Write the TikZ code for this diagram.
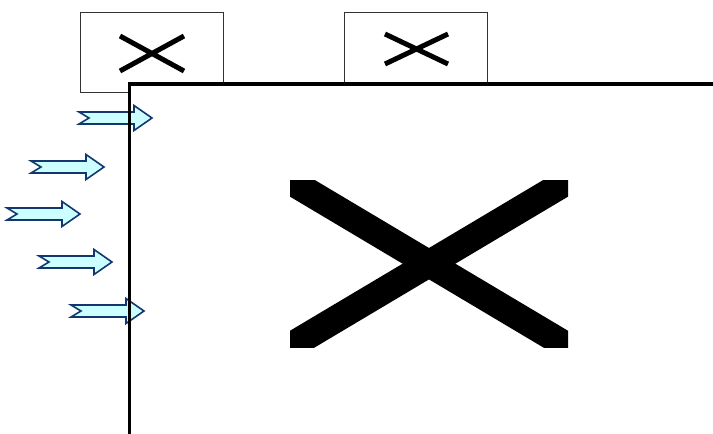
\documentclass[tikz,border=0pt]{standalone}
\definecolor{arrowedge}{RGB}{16,56,110}
\definecolor{arrowfill}{RGB}{204,255,255}
\begin{document}
\begin{tikzpicture}[x=1pt,y=-1pt,
  boxline/.style={draw=black!80,line width=0.9pt,fill=white},
  wall/.style={draw=black,line width=3.6pt},
  smallx/.style={line width=5pt,line cap=butt},
  arrowbody/.style={draw=arrowedge,line width=1.6pt,fill=arrowfill,line join=miter},
  pics/blockarrow/.style={code={
    \draw[arrowbody] (0,-6) -- (55,-6) -- (55,-12.5) -- (73,0) -- (55,12.5) -- (55,6) -- (0,6) -- (10,0) -- cycle;
  }}]
\useasboundingbox (0,0) rectangle (713,434);
% small boxes
\node[boxline,minimum width=143pt,minimum height=80pt,anchor=north west,inner sep=0pt] (b1) at (80,12) {};
\node[boxline,minimum width=143pt,minimum height=71pt,anchor=north west,inner sep=0pt] (b2) at (344,12) {};
% crosses in small boxes
\draw[smallx] (120,36) -- (184,71) (120,71) -- (184,36);
\draw[smallx] (385,34) -- (448,64) (385,64) -- (448,34);
% main area
\fill[white] (129.5,84) rectangle (713,434);
\coordinate (corner) at (129.5,84);
\coordinate (rightend) at (714,84);
\coordinate (bottomend) at (129.5,435);
% arrows
\pic at (79,118) {blockarrow};
\pic at (31,167) {blockarrow};
\pic at (7,214) {blockarrow};
\pic at (39,262) {blockarrow};
\pic at (71,311) {blockarrow};
% wall
\draw[wall,line join=miter] (bottomend) -- (corner) -- (rightend);
% big cross
\begin{scope}
\clip (290,180) rectangle (568,347);
\draw[line width=27pt] (280,175) -- (578,352.4);
\draw[line width=27pt] (280,352.4) -- (578,175);
\end{scope}
\end{tikzpicture}
\end{document}
